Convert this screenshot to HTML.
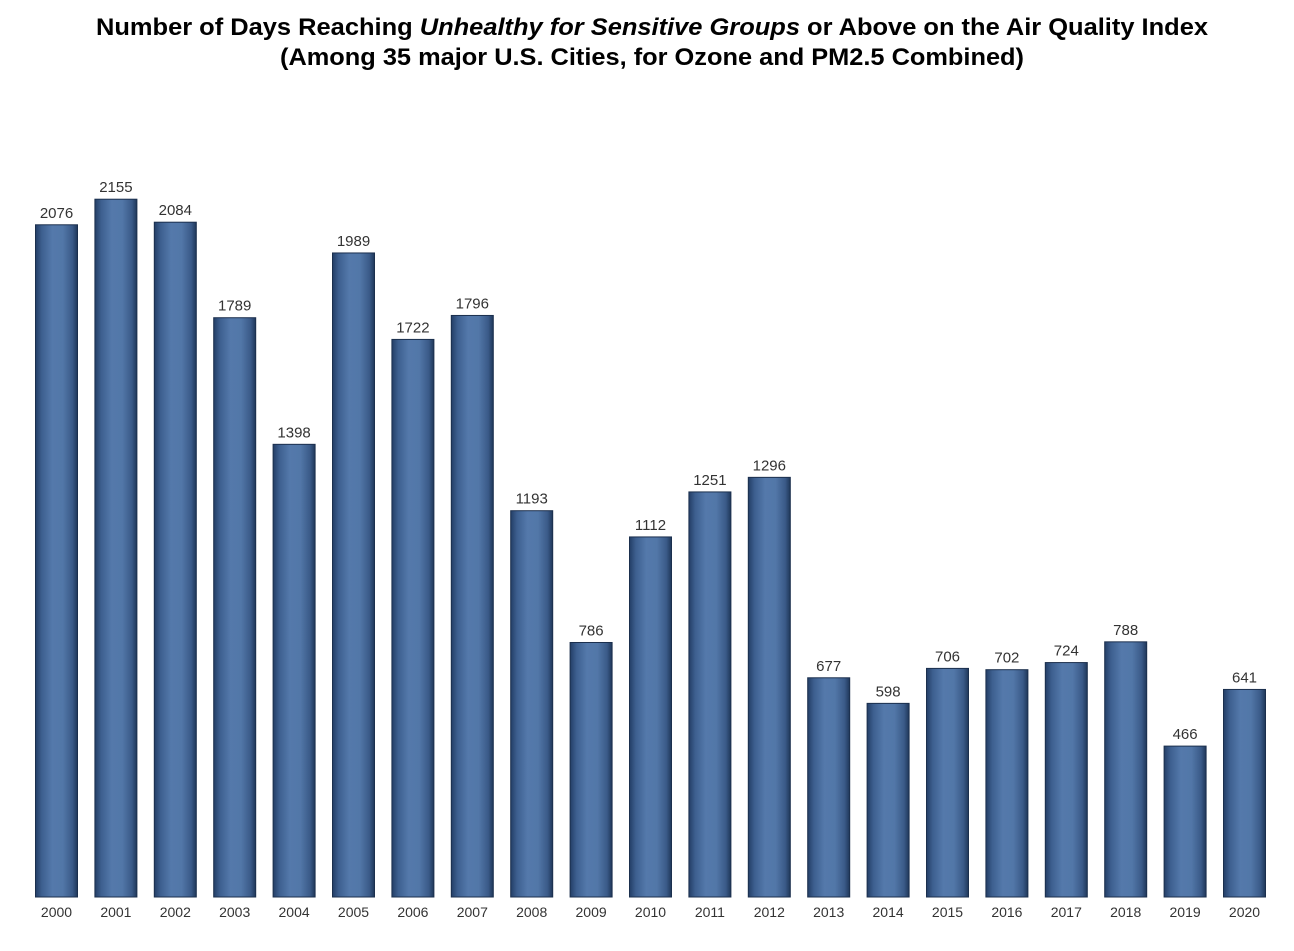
<!DOCTYPE html>
<html><head><meta charset="utf-8"><style>
body{margin:0;background:#fff;width:1294px;height:946px;overflow:hidden;font-family:"Liberation Sans",Arial,sans-serif}
</style></head><body>
<svg id="chart" width="1294" height="946">
<defs>
<linearGradient id="g" x1="0" x2="1" y1="0" y2="0">
<stop offset="0" stop-color="#233e66"/>
<stop offset="0.15" stop-color="#3d5f8f"/>
<stop offset="0.4" stop-color="#5479ab"/>
<stop offset="0.65" stop-color="#5277a8"/>
<stop offset="0.88" stop-color="#3a5a88"/>
<stop offset="1" stop-color="#1f3759"/>
</linearGradient>
</defs>
<text x="96" y="35" font-size="24" font-weight="bold" fill="#000" textLength="1112" lengthAdjust="spacingAndGlyphs">Number of Days Reaching <tspan font-style="italic">Unhealthy for Sensitive Groups</tspan>  or Above on the Air Quality Index</text>
<text x="280" y="65" font-size="24" font-weight="bold" fill="#000" textLength="744" lengthAdjust="spacingAndGlyphs">(Among 35 major U.S. Cities, for Ozone and PM2.5 Combined)</text>
<g id="bars"></g>
</svg>
<script>
const years=["2000","2001","2002","2003","2004","2005","2006","2007","2008","2009","2010","2011","2012","2013","2014","2015","2016","2017","2018","2019","2020"];
const days=[2076,2155,2084,1789,1398,1989,1722,1796,1193,786,1112,1251,1296,677,598,706,702,724,788,466,641];
const base=897,scale=0.3238,x0=56.5,step=59.4,bw=42;
const y=v=>base-v*scale;
const xc=i=>x0+i*step;
const g=document.getElementById('bars');
const ns="http://www.w3.org/2000/svg";
years.forEach((yr,i)=>{
  const r=document.createElementNS(ns,'rect');
  r.setAttribute('x',xc(i)-bw/2);r.setAttribute('y',y(days[i]));
  r.setAttribute('width',bw);r.setAttribute('height',base-y(days[i]));
  r.setAttribute('fill','url(#g)');r.setAttribute('stroke','#1b2f4d');r.setAttribute('stroke-width','1');
  
  
  g.appendChild(r);
  const t=document.createElementNS(ns,'text');
  t.setAttribute('x',xc(i));t.setAttribute('y',y(days[i])-7);
  t.setAttribute('text-anchor','middle');t.setAttribute('font-size','15');t.setAttribute('fill','#333');
  t.textContent=days[i];
  
  
  g.appendChild(t);
  const l=document.createElementNS(ns,'text');
  l.setAttribute('x',xc(i));l.setAttribute('y',917);
  l.setAttribute('text-anchor','middle');l.setAttribute('font-size','14');l.setAttribute('fill','#333');
  l.textContent=yr;
  
  
  g.appendChild(l);
});
</script>
</body></html>
